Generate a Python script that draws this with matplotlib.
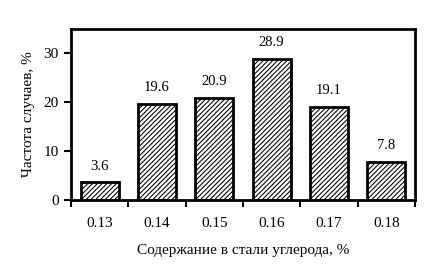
import matplotlib
matplotlib.use("Agg")
import matplotlib.pyplot as plt
import numpy as np

categories = ["0.13", "0.14", "0.15", "0.16", "0.17", "0.18"]
values = [3.6, 19.6, 20.9, 28.9, 19.1, 7.8]

plt.rcParams["font.family"] = ["Liberation Serif", "DejaVu Serif"]
plt.rcParams["font.size"] = 11
plt.rcParams["hatch.linewidth"] = 0.75

fig = plt.figure(figsize=(4.3, 2.78), dpi=100)
ax = fig.add_axes([71 / 430, 1 - 200 / 278, 344 / 430, 171 / 278])

x = np.arange(len(categories))
bars = ax.bar(x, values, width=0.66, color="white", edgecolor="black",
              linewidth=2.0, hatch="///////")
for xi, v in zip(x, values):
    ax.text(xi, v + 2.0, f"{v}", ha="center", va="bottom", fontsize=10.5)

ax.set_xlim(-0.5, len(categories) - 0.5)
ax.set_ylim(0, 35)
ax.set_yticks([0, 10, 20, 30])
ax.set_xticks(x)
ax.set_xticklabels(categories)
ax.set_xticks(np.arange(-0.5, len(categories)), minor=True)
ax.tick_params(axis="x", which="major", length=0, pad=12, labelsize=11)
ax.tick_params(axis="x", which="minor", length=5, width=1.5, direction="out")
ax.tick_params(axis="y", length=5, width=1.5, direction="out", pad=4, labelsize=11)
for s in ax.spines.values():
    s.set_linewidth(2.0)

ax.set_xlabel("Содержание в стали углерода, %", labelpad=10)
ax.set_ylabel("Частота случаев, %", labelpad=6)

fig.savefig("out.png", dpi=100)
